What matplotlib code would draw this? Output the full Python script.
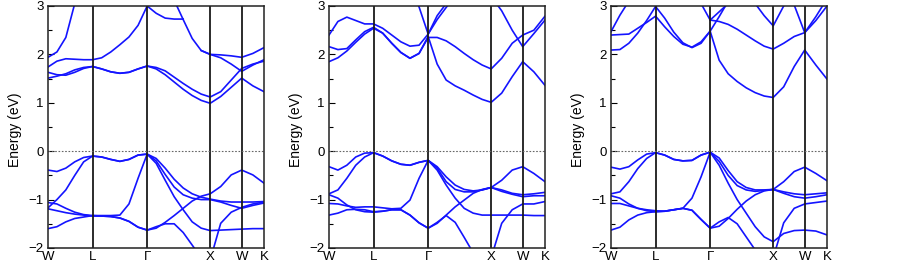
import numpy as np
import matplotlib
matplotlib.use("Agg")
import matplotlib.pyplot as plt
from matplotlib.ticker import MultipleLocator

nan = np.nan

# fcc path W-L-G-X-W-K, segment lengths in 2pi/a
path_labels = ["W", "L", "Γ", "X", "W", "K"]
seg_len = [0.7071, 0.8660, 1.0, 0.5, 0.3536]
seg_pts = [5, 6, 7, 3, 2]

# energies (eV) at the sample points of each segment
bands_a = [
    [1.94, 2.05, 2.35, 3.05, 3.6] + [nan] * 19,
    [1.74, 1.86, 1.91, 1.90, 1.89, 1.89, 1.93, 2.05, 2.20, 2.36, 2.60, 3.00,
     2.85, 2.75, 2.73, 2.73] + [nan] * 8,
    [nan] * 13 + [3.6, 3.12, 2.72, 2.33, 2.08, 2.00, 1.99, 1.97, 1.94, 2.02, 2.14],
    [1.63, 1.58, 1.57, 1.63, 1.71, 1.75, 1.70, 1.64, 1.61, 1.63, 1.70, 1.76,
     1.73, 1.66, 1.53, 1.40, 1.28, 1.18, 1.12, 1.23, 1.47, 1.71, 1.80, 1.86],
    [1.51, 1.55, 1.60, 1.68, 1.73, 1.75, 1.70, 1.64, 1.61, 1.63, 1.70, 1.76,
     1.70, 1.58, 1.43, 1.28, 1.15, 1.05, 0.99, 1.13, 1.32, 1.51, 1.35, 1.23],
    [nan] * 17 + [2.08, 2.00, 1.93, 1.80, 1.65, 1.78, 1.89],
    [-0.39, -0.42, -0.35, -0.22, -0.13, -0.10, -0.12, -0.17, -0.21, -0.17, -0.08, -0.06,
     -0.15, -0.35, -0.58, -0.76, -0.88, -0.95, -0.99, -1.03, -1.05, -1.05, -1.05, -1.04],
    [-1.17, -1.00, -0.80, -0.50, -0.22, -0.10, -0.12, -0.17, -0.21, -0.17, -0.08, -0.06,
     -0.20, -0.48, -0.74, -0.90, -0.97, -1.00, -1.00, -1.05, -1.12, -1.18, -1.12, -1.07],
    [-1.06, -1.09, -1.18, -1.26, -1.31, -1.33, -1.33, -1.33, -1.32, -1.09, -0.56, -0.06,
     -0.25, -0.60, -0.94, -1.21, -1.46, -1.59, -1.64, -1.63, -1.62, -1.61, -1.60, -1.60],
    [-1.19, -1.23, -1.27, -1.30, -1.32, -1.34, -1.34, -1.35, -1.38, -1.45, -1.57, -1.63,
     -1.59, -1.47, -1.33, -1.18, -1.03, -0.93, -0.88, -0.73, -0.49, -0.39, -0.49, -0.66],
    [-1.60, -1.56, -1.46, -1.39, -1.36, -1.33, -1.34, -1.35, -1.38, -1.45, -1.57, -1.63,
     -1.56, -1.50, -1.50, -1.68, -1.94, -2.20, -2.25, -1.49, -1.26, -1.16, -1.09, -1.05],
]

bands_b = [
    [2.40, 2.68, 2.77, 2.70, 2.63, 2.63, 2.54, 2.40, 2.26, 2.17, 2.19, 2.42,
     2.72, 2.97, 3.20] + [nan] * 9,
    [2.16, 2.10, 2.12, 2.30, 2.47, 2.56, 2.44, 2.23, 2.04, 1.92, 2.02, 2.35,
     2.35, 2.28, 2.16, 2.02, 1.89, 1.78, 1.70, 1.92, 2.23, 2.40, 2.50, 2.79],
    [1.85, 1.93, 2.07, 2.25, 2.42, 2.54, 2.44, 2.23, 2.04, 1.92, 2.02, 2.37,
     1.80, 1.47, 1.35, 1.26, 1.16, 1.07, 1.01, 1.20, 1.54, 1.85, 1.64, 1.36],
    [nan] * 9 + [3.50, 2.98, 2.42, 2.80, 3.05, 3.40] + [nan] * 9,
    [nan] * 18 + [3.20, 2.90, 2.50, 2.16, 2.43, 2.71],
    [-0.32, -0.39, -0.29, -0.12, -0.04, -0.03, -0.10, -0.20, -0.27, -0.29, -0.23, -0.19,
     -0.32, -0.53, -0.70, -0.79, -0.82, -0.80, -0.75, -0.80, -0.87, -0.90, -0.88, -0.85],
    [-0.88, -0.80, -0.56, -0.29, -0.12, -0.03, -0.10, -0.20, -0.27, -0.29, -0.23, -0.19,
     -0.35, -0.63, -0.79, -0.84, -0.84, -0.80, -0.75, -0.83, -0.89, -0.94, -0.92, -0.92],
    [-0.90, -0.97, -1.11, -1.21, -1.25, -1.26, -1.24, -1.21, -1.21, -1.32, -1.48, -1.59,
     -1.49, -1.32, -1.15, -1.01, -0.87, -0.79, -0.75, -0.60, -0.39, -0.32, -0.46, -0.63],
    [-1.08, -1.09, -1.13, -1.16, -1.15, -1.15, -1.17, -1.19, -1.18, -1.01, -0.56, -0.19,
     -0.39, -0.70, -0.97, -1.18, -1.28, -1.32, -1.32, -1.32, -1.32, -1.32, -1.33, -1.33],
    [-1.32, -1.28, -1.21, -1.20, -1.21, -1.25, -1.24, -1.21, -1.21, -1.32, -1.48, -1.59,
     -1.47, -1.33, -1.47, -1.78, -2.10, -2.30, -2.20, -1.49, -1.21, -1.09, -1.09, -1.04],
]

bands_c = [
    [2.47, 2.81, 3.10] + [nan] * 21,
    [2.40, 2.41, 2.42, 2.54, 2.66, 2.79, 2.57, 2.37, 2.21, 2.15, 2.26, 2.48,
     1.88, 1.60, 1.44, 1.31, 1.21, 1.14, 1.11, 1.33, 1.75, 2.09, 1.78, 1.49],
    [2.09, 2.10, 2.23, 2.44, 2.70, 2.99, 2.75, 2.46, 2.24, 2.14, 2.23, 2.48,
     2.78, 3.10] + [nan] * 10,
    [nan] * 9 + [3.40, 3.05, 2.71, 2.68, 2.62, 2.52, 2.40, 2.28, 2.17, 2.11,
                 2.23, 2.37, 2.45, 2.70, 3.00],
    [nan] * 19 + [3.40, 3.02, 2.45, 2.78, 3.15],
    [nan] * 16 + [3.05, 2.80, 2.59, 3.00, 3.40, nan, nan, nan],
    [nan] * 11 + [2.71, 2.88, 3.05] + [nan] * 10,
    [-0.33, -0.37, -0.32, -0.18, -0.06, -0.03, -0.08, -0.17, -0.20, -0.19, -0.08, -0.02,
     -0.14, -0.40, -0.63, -0.75, -0.80, -0.80, -0.79, -0.84, -0.88, -0.90, -0.88, -0.86],
    [-0.88, -0.84, -0.63, -0.36, -0.15, -0.03, -0.08, -0.17, -0.20, -0.19, -0.08, -0.02,
     -0.21, -0.50, -0.71, -0.80, -0.83, -0.81, -0.79, -0.87, -0.94, -0.97, -0.94, -0.90],
    [-0.92, -0.97, -1.09, -1.18, -1.23, -1.25, -1.24, -1.21, -1.18, -1.22, -1.41, -1.59,
     -1.55, -1.39, -1.20, -1.03, -0.90, -0.82, -0.79, -0.63, -0.42, -0.33, -0.46, -0.61],
    [-1.08, -1.08, -1.13, -1.18, -1.21, -1.23, -1.24, -1.21, -1.18, -0.97, -0.53, -0.02,
     -0.29, -0.66, -1.00, -1.28, -1.56, -1.77, -1.87, -1.70, -1.64, -1.63, -1.65, -1.73],
    [-1.63, -1.57, -1.42, -1.32, -1.27, -1.25, -1.24, -1.21, -1.18, -1.22, -1.41, -1.59,
     -1.46, -1.37, -1.50, -1.77, -2.04, -2.30, -2.20, -1.48, -1.18, -1.09, -1.06, -1.03],
]

# k positions of the sample points
kticks = np.concatenate([[0], np.cumsum(seg_len)])
k = [0.0]
for i, n in enumerate(seg_pts):
    k += list(np.linspace(kticks[i], kticks[i + 1], n + 1)[1:])
k = np.array(k)

plt.rcParams['font.family'] = ['Liberation Sans', 'DejaVu Sans']

fig = plt.figure(figsize=(9.03, 2.71), dpi=100)
lefts = [48, 329, 611]
W, H = 903.0, 271.0

for left, bands in zip(lefts, [bands_a, bands_b, bands_c]):
    ax = fig.add_axes([left / W, 23 / H, 216 / W, 242 / H])
    for b in bands:
        ax.plot(k, b, color='#1414ff', lw=1.2, solid_joinstyle='round')
    for kt in kticks[1:-1]:
        ax.axvline(kt, color='#1a1a1a', lw=1.3)
    ax.axhline(0, color='#666666', lw=0.8, ls=(0, (1.5, 1.5)))
    ax.set_xlim(kticks[0], kticks[-1])
    ax.set_ylim(-2, 3)
    ax.set_xticks(kticks)
    ax.set_xticklabels(path_labels, fontsize=9.5)
    ax.yaxis.set_major_locator(MultipleLocator(1))
    ax.yaxis.set_minor_locator(MultipleLocator(0.5))
    ax.tick_params(axis='x', length=0, pad=2.5)
    ax.tick_params(axis='y', which='both', direction='in', right=False,
                   labelsize=9.5, pad=3)
    ax.tick_params(axis='y', which='major', length=4, width=0.8)
    ax.tick_params(axis='y', which='minor', length=3, width=0.8)
    for s in ax.spines.values():
        s.set_linewidth(1.1)
        s.set_color('#222222')
    ax.set_ylabel('Energy (eV)', fontsize=10)
    ax.yaxis.set_label_coords(-0.12, 0.49)

fig.savefig('out.png', dpi=100)
